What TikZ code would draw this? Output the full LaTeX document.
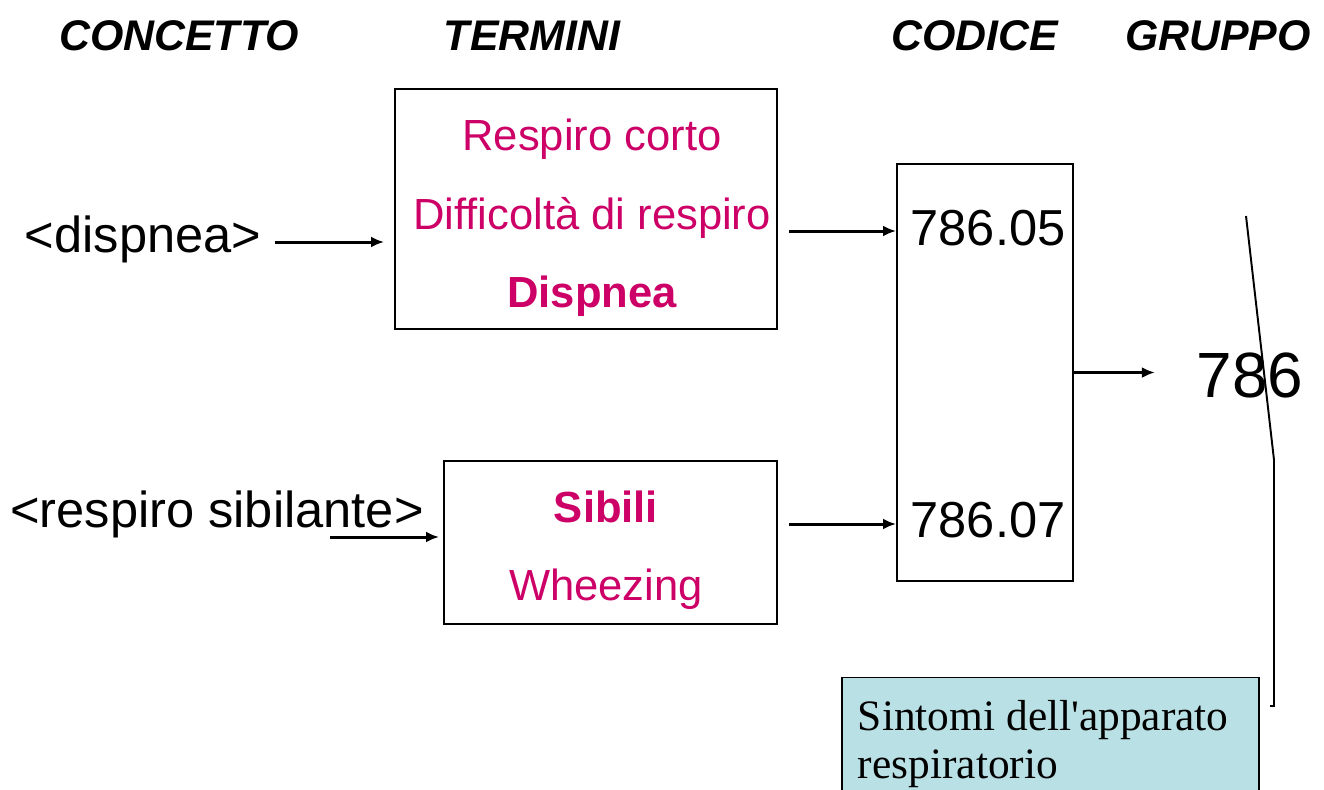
\documentclass[tikz,border=0pt]{standalone}
\usepackage{fontspec}
\setmainfont{Liberation Sans}
\newfontfamily\timesfont{Liberation Serif}
\usetikzlibrary{arrows.meta}
\definecolor{termcol}{RGB}{204,0,102}
\definecolor{groupfill}{RGB}{185,224,228}
\begin{document}
\begin{tikzpicture}[x=0.02cm, y=-0.02cm, line width=1.1pt]
  % Define block styles
  \tikzstyle{block} = [rectangle, draw, inner sep=0pt]
  \tikzstyle{head} = [anchor=base, font=\fontsize{24.4}{29}\selectfont\bfseries\itshape]
  \tikzstyle{term} = [anchor=base, text=termcol, font=\fontsize{24.8}{30}\selectfont]
  \tikzstyle{big} = [anchor=base, font=\fontsize{28.8}{34}\selectfont]
  \tikzstyle{line} = [draw, line width=1.7pt, -{Latex[length=2.6mm,width=2.2mm]}]

  \useasboundingbox (0,0) rectangle (1324,789);

  % Headings
  \node [head] (concetto) at (179,50) {CONCETTO};
  \node [head] (termini) at (532,50) {TERMINI};
  \node [head] (codice) at (975,50) {CODICE};
  \node [head] (gruppo) at (1218,50) {GRUPPO};

  % Place blocks
  \node [block, minimum width=7.64cm, minimum height=4.8cm] (dispBox) at (586,209) {};
  \node [block, minimum width=6.66cm, minimum height=3.26cm] (sibBox) at (610.5,542.5) {};
  \node [block, minimum width=3.52cm, minimum height=8.34cm] (codeBox) at (985,372.5) {};
  \node [block, fill=groupfill, minimum width=8.34cm, minimum height=2.9cm] (groupBox) at (1050.5,750) {};

  % Texts
  \node [big] (dispnea) at (143,252) {<dispnea>};
  \node [big] (sibilante) at (217,527) {<respiro sibilante>};
  \node [term] (corto) at (592,150) {Respiro corto};
  \node [term] (difficolta) at (592,229) {Difficoltà di respiro};
  \node [term, font=\fontsize{24.8}{30}\selectfont\bfseries] (dispTerm) at (592,307) {Dispnea};
  \node [term, font=\fontsize{24.8}{30}\selectfont\bfseries] (sibili) at (606,522) {Sibili};
  \node [term] (wheezing) at (606,600) {Wheezing};
  \node [big] (code05) at (988,245) {786.05};
  \node [big] (code07) at (988,537) {786.07};
  \node [anchor=base, font=\fontsize{36.4}{42}\selectfont] (group) at (1250,397) {786};
  \node [anchor=base west, inner sep=0pt, font=\timesfont\fontsize{24.7}{27.2}\selectfont] (sintomi) at (857,730) {Sintomi dell'apparato};
  \node [anchor=base west, inner sep=0pt, font=\timesfont\fontsize{24.7}{27.2}\selectfont] (respiratorio) at (857,778) {respiratorio};

  % Draw lines
  \coordinate (dispStart) at (275,242);
  \coordinate (sibStart) at (330,537);
  \coordinate (startA) at (789,231);
  \coordinate (startB) at (789,524);
  \coordinate (callTop) at (1246,216);
  \coordinate (callBend) at (1274,460);
  \coordinate (callEnd) at (1270,706);
  \path [line] (dispStart) -- ([xshift=-0.2cm]dispBox.west |- dispStart);
  \path [line] (sibStart) -- ([xshift=-0.08cm]sibBox.west |- sibStart);
  \path [line] (startA) -- (codeBox.west |- startA);
  \path [line] (startB) -- (codeBox.west |- startB);
  \path [line] (codeBox.east) -- ([xshift=-0.7cm]group.west |- codeBox.east);
  \draw (callTop) -- (callBend) -- (callBend |- callEnd) -- (callEnd);
\end{tikzpicture}
\end{document}
